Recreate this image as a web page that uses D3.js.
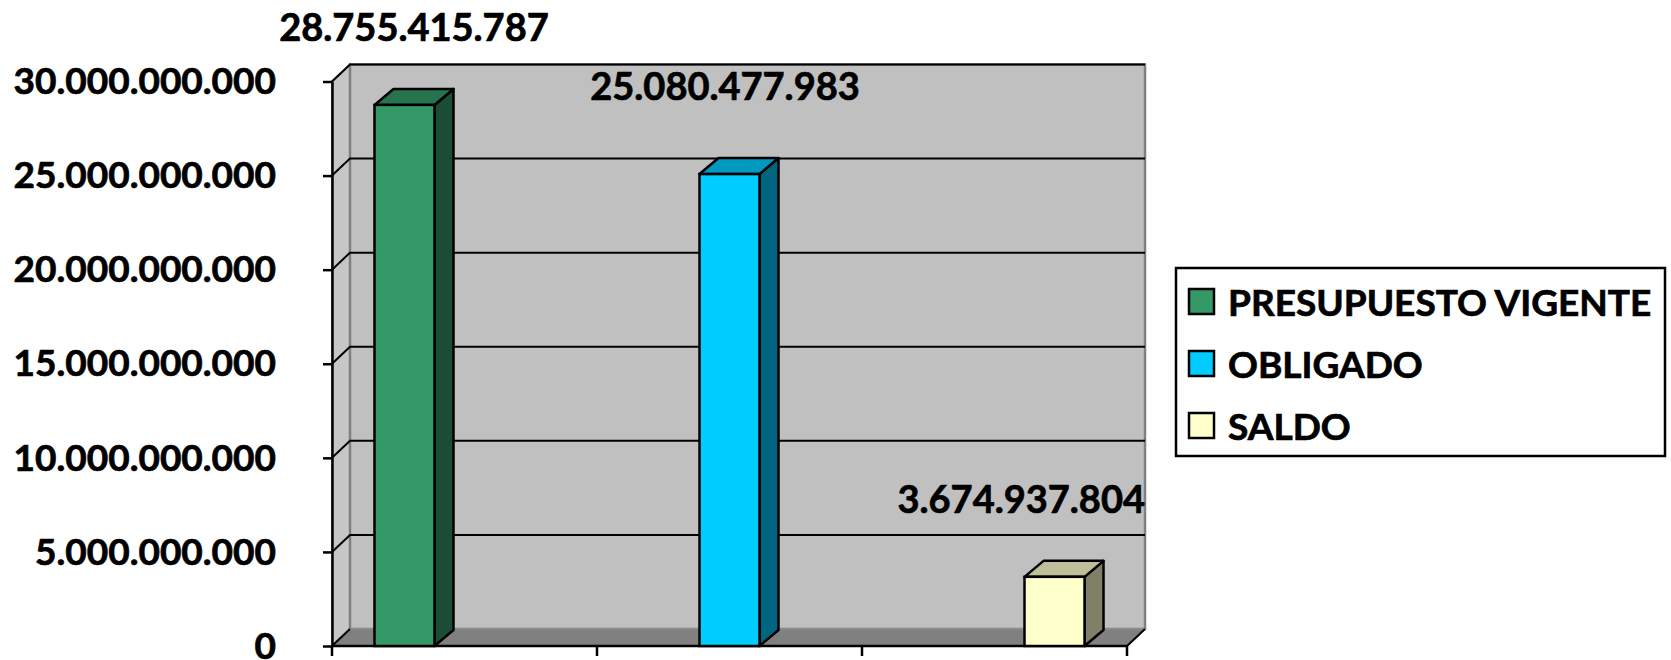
<!DOCTYPE html>
<html>
<head>
<meta charset="utf-8">
<script src="https://cdn.jsdelivr.net/npm/d3@7"></script>
<style>
  body { margin: 0; background: #fff; }
  text { font-family: Lato, "Open Sans", sans-serif; font-weight: bold; fill: #000; stroke: #000; stroke-width: 0.7px; }
</style>
</head>
<body>
<svg id="chart"></svg>
<script>
// data
var categories = ["PRESUPUESTO VIGENTE", "OBLIGADO", "SALDO"];
var values = [28755415787, 25080477983, 3674937804];
var yTicks = [0, 5000000000, 10000000000, 15000000000, 20000000000, 25000000000, 30000000000];
var colors = ["#339966", "#00ccff", "#ffffcc"];

var svgWidth = 1671, svgHeight = 660;
var depthX = 18, depthY = -17;      // walls
var barDX = 19, barDY = -16;        // bar depth

var svg = d3.select("#chart")
    .attr("width", svgWidth)
    .attr("height", svgHeight);

var locale = d3.formatLocale({decimal: ",", thousands: ".", grouping: [3], currency: ["", ""]});
var fmt = locale.format(",.0f");

var x0 = d3.scaleBand().domain(categories).range([332, 1127]).padding(0);
var x1 = d3.scaleBand().domain(categories).range([0, x0.bandwidth()]).paddingInner(0).paddingOuter(0.708);
var y = d3.scaleLinear().domain([0, 30000000000]).range([646, 81.5]);

var plotLeft = x0.range()[0], plotRight = x0.range()[1];
var plotTop = y(30000000000), plotBase = y(0);

// walls
svg.append("polygon")
    .attr("points", [[plotLeft, plotBase], [plotLeft, plotTop], [plotLeft + depthX, plotTop + depthY], [plotLeft + depthX, plotBase + depthY]].join(" "))
    .attr("fill", "#c6c6c6").attr("stroke", "#808080").attr("stroke-width", 2);
svg.append("rect")
    .attr("x", plotLeft + depthX).attr("y", plotTop + depthY)
    .attr("width", plotRight - plotLeft).attr("height", plotBase - plotTop)
    .attr("fill", "#c0c0c0").attr("stroke", "#808080").attr("stroke-width", 2.5);
svg.append("polygon")
    .attr("points", [[plotLeft, plotBase], [plotRight, plotBase], [plotRight + depthX, plotBase + depthY], [plotLeft + depthX, plotBase + depthY]].join(" "))
    .attr("fill", "#808080").attr("stroke", "#8c8c8c").attr("stroke-width", 1.5);

// gridlines, bent over the side wall
svg.append("g").selectAll("path")
    .data(yTicks.filter(function(d) { return d > 0; }))
    .enter()
    .append("path")
    .attr("d", function(d) {
        return "M" + plotLeft + "," + y(d) + "L" + (plotLeft + depthX) + "," + (y(d) + depthY) + "H" + (plotRight + depthX);
    })
    .attr("fill", "none").attr("stroke", "#000").attr("stroke-width", 2);

// floor edges
svg.append("path")
    .attr("d", "M" + plotLeft + "," + plotBase + "L" + (plotLeft + depthX) + "," + (plotBase + depthY) +
               "M" + plotRight + "," + plotBase + "L" + (plotRight + depthX) + "," + (plotBase + depthY))
    .attr("stroke", "#000").attr("stroke-width", 2).attr("fill", "none");

// y axis
var yAxis = d3.axisLeft(y).tickValues(yTicks).tickFormat(fmt).tickSize(9).tickSizeOuter(0).tickPadding(47);
var gy = svg.append("g").attr("transform", "translate(" + plotLeft + ",0)").call(yAxis);
gy.select(".domain").attr("stroke", "#000").attr("stroke-width", 2.5);
gy.selectAll(".tick line").attr("stroke", "#000").attr("stroke-width", 2.5);
gy.selectAll(".tick text")
    .attr("font-family", "Lato, 'Open Sans', sans-serif")
    .attr("font-weight", "bold")
    .attr("font-size", 37)
    .attr("fill", "#000")
    .attr("dy", "0.33em");

// x axis: ticks at category boundaries
svg.append("line")
    .attr("x1", plotLeft).attr("x2", plotRight).attr("y1", plotBase).attr("y2", plotBase)
    .attr("stroke", "#000").attr("stroke-width", 2.5);
var bounds = categories.map(function(c) { return x0(c); }).concat([plotRight]);
svg.append("g").selectAll("line")
    .data(bounds)
    .enter()
    .append("line")
    .attr("x1", function(d) { return d; }).attr("x2", function(d) { return d; })
    .attr("y1", plotBase).attr("y2", plotBase + 10)
    .attr("stroke", "#000").attr("stroke-width", 2.5);

// bars
function shade(c, k) { var r = d3.rgb(c); return d3.rgb(r.r * k, r.g * k, r.b * k); }

var bars = svg.append("g").selectAll("g")
    .data(values)
    .enter()
    .append("g");

bars.each(function(d, i) {
    var g = d3.select(this);
    var bx = x0(categories[i]) + x1(categories[i]);
    var bw = x1.bandwidth();
    var by = y(d);
    g.append("polygon")
        .attr("points", [[bx + bw, plotBase], [bx + bw, by], [bx + bw + barDX, by + barDY], [bx + bw + barDX, plotBase + barDY]].join(" "))
        .attr("fill", shade(colors[i], 0.5)).attr("stroke", "#000").attr("stroke-width", 2.5).attr("stroke-linejoin", "round");
    g.append("polygon")
        .attr("points", [[bx, by], [bx + bw, by], [bx + bw + barDX, by + barDY], [bx + barDX, by + barDY]].join(" "))
        .attr("fill", shade(colors[i], 0.75)).attr("stroke", "#000").attr("stroke-width", 2.5).attr("stroke-linejoin", "round");
    g.append("rect")
        .attr("x", bx).attr("y", by).attr("width", bw).attr("height", plotBase - by)
        .attr("fill", colors[i]).attr("stroke", "#000").attr("stroke-width", 2.5);
});

// value labels
var labelNudge = {"OBLIGADO": [-14, -10]};
var wallRight = plotRight + depthX;
bars.append("text")
    .attr("font-size", 38)
    .attr("text-anchor", "middle")
    .text(function(d) { return fmt(d); })
    .each(function(d, i) {
        var t = d3.select(this);
        var n = labelNudge[categories[i]] || [0, 0];
        var cx = x0(categories[i]) + x1(categories[i]) + x1.bandwidth() / 2 + barDX / 2 + n[0];
        var w = this.getComputedTextLength();
        if (cx + w / 2 > wallRight) cx = wallRight - w / 2;
        t.attr("x", cx).attr("y", y(d) - 64 + n[1]);
    });

// legend
var legend = svg.append("g").attr("transform", "translate(1176,268)");
legend.append("rect")
    .attr("width", 489).attr("height", 188)
    .attr("fill", "#fff").attr("stroke", "#000").attr("stroke-width", 2.5);
var items = legend.selectAll("g.item")
    .data(categories)
    .enter()
    .append("g")
    .attr("class", "item")
    .attr("transform", function(d, i) { return "translate(13," + (21 + i * 62) + ")"; });
items.append("rect")
    .attr("width", 25).attr("height", 25)
    .attr("fill", function(d, i) { return colors[i]; })
    .attr("stroke", "#000").attr("stroke-width", 2.5);
items.append("text")
    .attr("x", 39).attr("y", 27)
    .attr("font-size", 37)
    .text(function(d) { return d; });
</script>
</body>
</html>
